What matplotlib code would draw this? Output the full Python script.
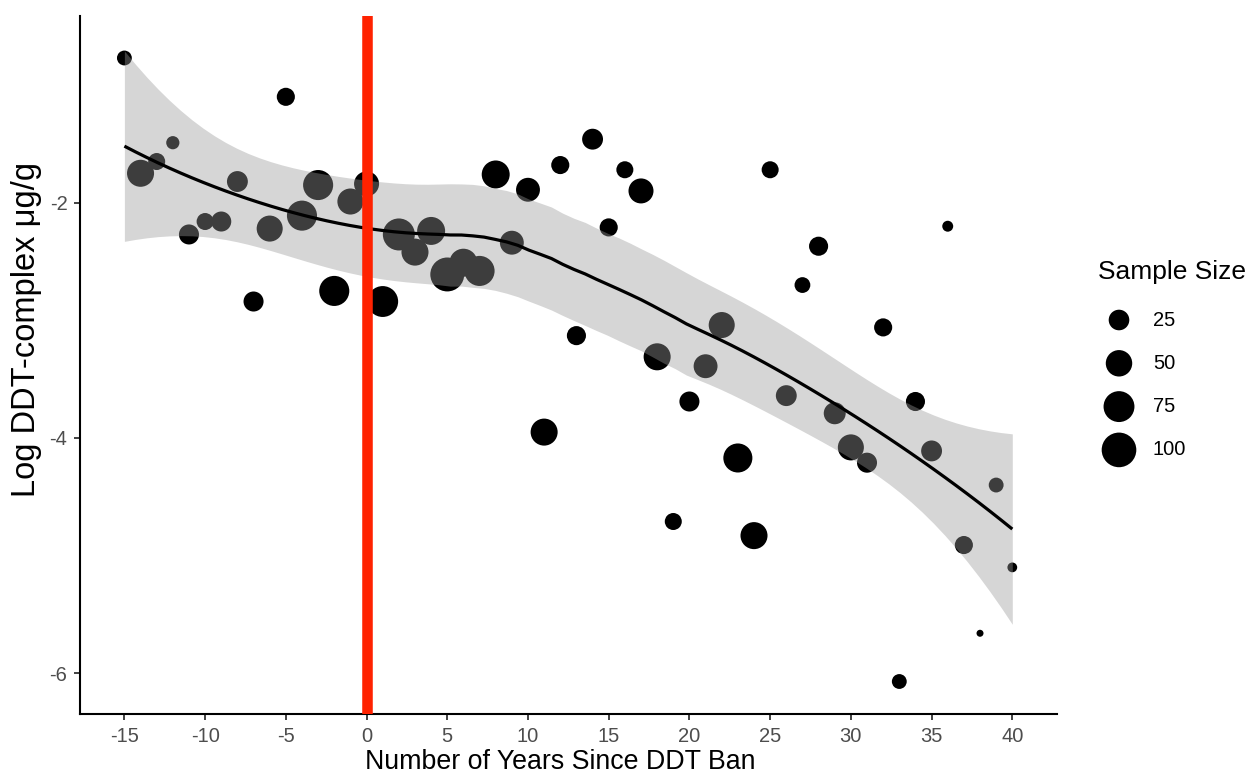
import numpy as np
import matplotlib
matplotlib.use("Agg")
import matplotlib.pyplot as plt

plt.rcParams['font.family'] = ['Liberation Sans', 'DejaVu Sans']

# ---------------- data ----------------
years = [-15, -14, -13, -12, -11, -10, -9, -8, -7, -6, -5, -4, -3, -2, -1, 0,
         1, 2, 3, 4, 5, 6, 7, 8, 9, 10, 11, 12, 13, 14, 15, 16, 17, 18, 19, 20,
         21, 22, 23, 24, 25, 26, 27, 28, 29, 30, 31, 32, 33, 34, 35, 36, 37, 38,
         39, 40]
log_ddt = [-0.77, -1.75, -1.65, -1.49, -2.27, -2.16, -2.16, -1.82, -2.84, -2.22,
           -1.10, -2.11, -1.85, -2.75, -1.99, -1.84, -2.84, -2.27, -2.42, -2.24,
           -2.61, -2.51, -2.58, -1.76, -2.34, -1.89, -3.95, -1.68, -3.13, -1.46,
           -2.21, -1.72, -1.90, -3.31, -4.71, -3.69, -3.39, -3.04, -4.17, -4.83,
           -1.72, -3.64, -2.70, -2.37, -3.79, -4.08, -4.21, -3.06, -6.07, -3.69,
           -4.11, -2.20, -4.91, -5.66, -4.40, -5.10]
sample_size = [9, 53, 14, 6, 23, 14, 23, 26, 23, 48,
               17, 70, 70, 70, 48, 43, 75, 82, 53, 58,
               95, 58, 70, 58, 38, 38, 53, 17, 20, 26,
               17, 14, 43, 53, 14, 23, 38, 48, 64, 53,
               14, 26, 11, 20, 30, 48, 23, 17, 9, 20,
               26, 3, 17, 1, 9, 2]
legend_breaks = [25, 50, 75, 100]
x_ticks = [-15, -10, -5, 0, 5, 10, 15, 20, 25, 30, 35, 40]
y_ticks = [-6, -4, -2]
ban_year = 0

DPI = 100
x = np.array(years, float)
y = np.array(log_ddt, float)
n = np.array(sample_size, float)


def diam_px(v):
    v = np.asarray(v, float)
    return 7 + 29 * np.sqrt(np.clip((v - 1) / 109.0, 0, None))


def area_pt2(v):
    return (diam_px(v) * 72.0 / DPI) ** 2


# ---------------- loess (span .75, degree 2) with 95% CI ----------------
def loess_weights(x, x0, span=0.75):
    q = int(np.floor(len(x) * span))
    d = np.abs(x - x0)
    h = np.sort(d)[q - 1]
    u = np.clip(d / h, 0, 1)
    return (1 - u ** 3) ** 3


def loess_operator(x, x0, span=0.75):
    w = loess_weights(x, x0, span)
    X = np.vstack([np.ones_like(x), x - x0, (x - x0) ** 2]).T
    XtW = X.T * w
    A = XtW @ X
    return np.linalg.solve(A, XtW)[0]


L = np.array([loess_operator(x, xi) for xi in x])
IL = np.eye(len(x)) - L
R = IL.T @ IL
delta1 = np.trace(R)
delta2 = np.trace(R @ R)
resid = IL @ y
sigma = np.sqrt(np.sum(resid ** 2) / delta1)
df = delta1 ** 2 / delta2
z = 1.959963985
tq = z + (z ** 3 + z) / (4 * df) + (5 * z ** 5 + 16 * z ** 3 + 3 * z) / (96 * df ** 2)

xs = np.linspace(x.min(), x.max(), 80)
Ls = np.array([loess_operator(x, xi) for xi in xs])
fit = Ls @ y
se = sigma * np.sqrt(np.sum(Ls ** 2, axis=1))
lo = fit - tq * se
hi = fit + tq * se

# ---------------- figure ----------------
W, H = 1253, 776
fig = plt.figure(figsize=(W / DPI, H / DPI), dpi=DPI)
ax = fig.add_axes([80 / W, (H - 713.5) / H, (1056.7 - 80) / W, (713.5 - 16) / H])

ax.scatter(x, y, s=area_pt2(n), color='black', edgecolors='none', zorder=2)
ax.fill_between(xs, lo, hi, color='#999999', alpha=0.4, linewidth=0, zorder=3)
ax.plot(xs, fit, color='black', lw=2.3, zorder=4, solid_capstyle='butt')
ax.axvline(ban_year, color='#FF2200', lw=7.6, zorder=5)

ax.set_xlim(-17.75, 42.75)
ax.set_ylim(-6.342, -0.413)
ax.set_xticks(x_ticks)
ax.set_yticks(y_ticks)
ax.set_xticklabels([str(t) for t in x_ticks])
ax.set_yticklabels([str(t) for t in y_ticks])

for side in ['top', 'right']:
    ax.spines[side].set_visible(False)
for side in ['left', 'bottom']:
    ax.spines[side].set_linewidth(1.5)
    ax.spines[side].set_color('black')
ax.tick_params(axis='x', pad=6)
ax.tick_params(axis='y', pad=5)
ax.tick_params(axis='both', length=4, width=1.3, color='#333333',
               labelcolor='#4D4D4D', labelsize=14.5)

ax.set_xlabel('Number of Years Since DDT Ban', fontsize=19.3, color='black')
ax.xaxis.set_label_coords(560 / W, (H - 762) / H, transform=fig.transFigure)
ax.xaxis.label.set_va('center')
ax.set_ylabel('Log DDT-complex μg/g', fontsize=23.5, color='black')
ax.yaxis.label.set_va('center')
ax.yaxis.set_label_coords(27 / W, (H - 329) / H, transform=fig.transFigure)

# ---------------- legend ----------------
lax = fig.add_axes([1080 / W, (H - 480) / H, (W - 1080) / W, 230 / H])
lax.set_xlim(1080, W)
lax.set_ylim(480, 250)
lax.axis('off')
lax.text(1098, 272, 'Sample Size', fontsize=19, ha='left', va='center')
for i, b in enumerate(legend_breaks):
    yy = 320 + i * 43.3
    lax.scatter([1119], [yy], s=area_pt2(b), color='black', edgecolors='none')
    lax.text(1153, yy, str(b), fontsize=14.5, ha='left', va='center', color='black')

fig.savefig('out.png', dpi=DPI)
